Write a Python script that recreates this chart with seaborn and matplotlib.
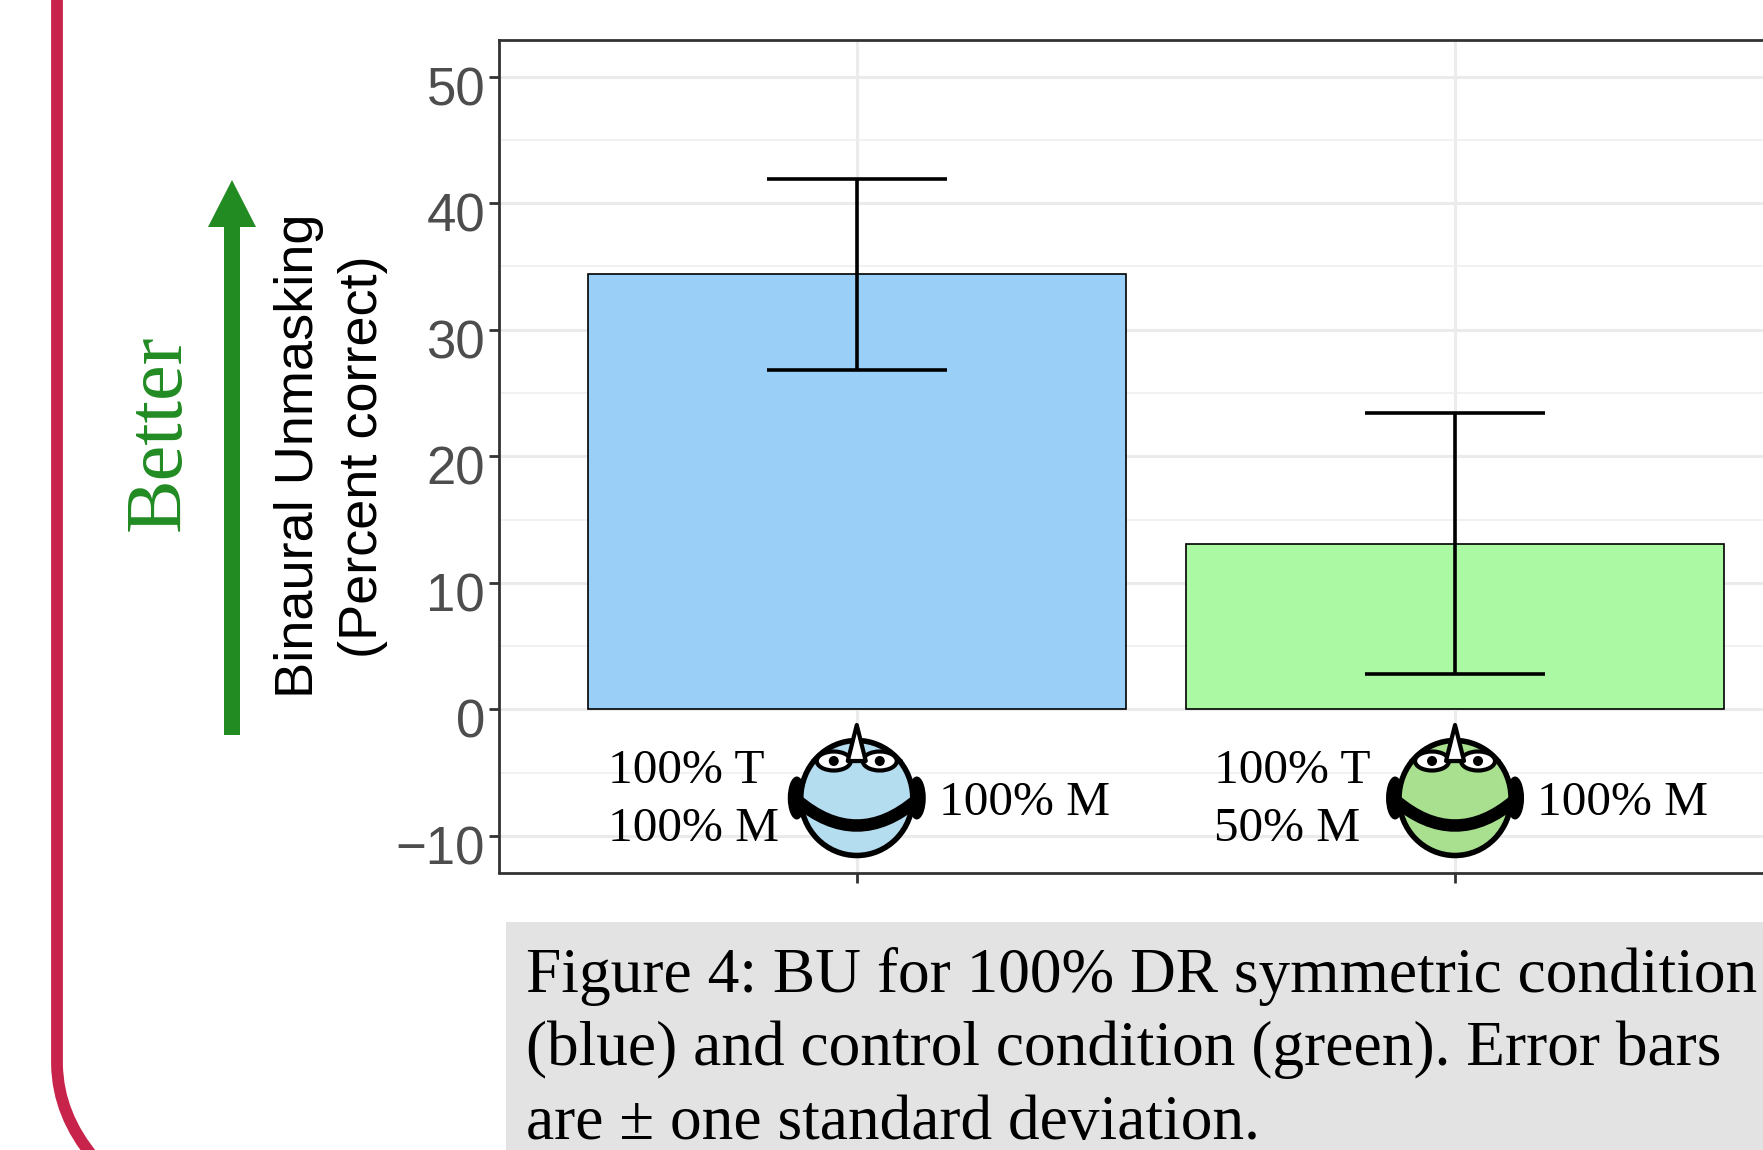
#!/usr/bin/env python3
"""Binaural unmasking bars with the poster frame, head icons and caption."""

import matplotlib
matplotlib.use('Agg')
import matplotlib.pyplot as plt
from matplotlib.patches import Ellipse, FancyArrow, PathPatch, Polygon, Rectangle
from matplotlib.path import Path
from matplotlib.ticker import MultipleLocator
from matplotlib.transforms import ScaledTranslation
import pandas as pd
import seaborn as sns

# Data
conditions = ['Symmetric', 'Control']
means = [34.4, 13.1]
sds = [7.55, 10.3]
bar_colors = ['#9ACFF7', '#ABF9A3']
face_colors = ['#B5DDF0', '#A8E08F']
y_ticks = [-10, 0, 10, 20, 30, 40, 50]
left_labels = ['100% T\n100% M', '100% T\n50% M']
right_labels = ['100% M', '100% M']
caption_lines = [
    'Figure 4: BU for 100% DR symmetric condition',
    '(blue) and control condition (green). Error bars',
    'are ± one standard deviation.',
]

SERIF = 'Liberation Serif'
W, H = 1763, 1150
AX_LEFT, AX_RIGHT, AX_TOP, AX_BOTTOM = 499, 1814, 40, 872.5


def draw_head(pax, cx, cy, face):
    """Head seen from above: ears, band, glasses and nose, in pixel units."""
    for side in (-1, 1):
        pax.add_patch(Ellipse((cx + side * 60, cy), 18, 43, fc='black', ec='none', zorder=3))
    pax.add_patch(Ellipse((cx, cy), 112, 115, fc=face, ec='black', lw=4, zorder=4))

    band = Path([(cx - 60, cy + 2), (cx - 20, cy + 36), (cx + 20, cy + 36), (cx + 60, cy + 2)],
                [Path.MOVETO, Path.CURVE4, Path.CURVE4, Path.CURVE4])
    pax.add_patch(PathPatch(band, fc='none', ec='black', lw=9, capstyle='round', zorder=5))

    pax.plot([cx - 44, cx + 44], [cy - 37, cy - 37], color='black', lw=3, zorder=5)
    for side in (-1, 1):
        ex = cx + side * 23
        pax.add_patch(Ellipse((ex, cy - 37), 34, 19, fc='white', ec='black', lw=3, zorder=6))
        pax.add_patch(Ellipse((ex, cy - 37), 10, 10, fc='black', ec='none', zorder=7))
    pax.add_patch(Polygon([(cx, cy - 73), (cx - 9, cy - 37), (cx + 9, cy - 37)],
                          closed=True, fc='white', ec='black', lw=3, joinstyle='round', zorder=8))


def main():
    sns.set_theme(style='white')
    plt.rcParams['font.family'] = ['Liberation Sans', 'DejaVu Sans']

    fig = plt.figure(figsize=(W / 100, H / 100), dpi=100, facecolor='white')
    ax = fig.add_axes([AX_LEFT / W, 1 - AX_BOTTOM / H,
                       (AX_RIGHT - AX_LEFT) / W, (AX_BOTTOM - AX_TOP) / H])

    df = pd.DataFrame({'condition': conditions, 'mean': means})
    sns.barplot(data=df, x='condition', y='mean', hue='condition', palette=bar_colors,
                saturation=1, width=0.9, edgecolor='black', linewidth=1.2,
                errorbar=None, legend=False, zorder=2, ax=ax)
    ax.errorbar(range(len(conditions)), means, yerr=sds, fmt='none', ecolor='black',
                elinewidth=2.6, capsize=65, capthick=2.6, zorder=3)

    ax.set_xlim(-0.598, 1.6)
    ax.set_ylim(-12.9, 52.9)
    ax.set_yticks(y_ticks)
    ax.yaxis.set_minor_locator(MultipleLocator(5))
    ax.set_xticks(range(len(conditions)))
    ax.set_xticklabels([])
    ax.set_xlabel('')
    ax.set_axisbelow(True)
    ax.grid(True, which='major', color='#EBEBEB', lw=2.2)
    ax.grid(True, which='minor', axis='y', color='#EFEFEF', lw=1.2)
    ax.tick_params(axis='both', which='major', length=7, width=2, color='#333333',
                   labelsize=38, labelcolor='#4D4D4D', pad=3, left=True, bottom=True)
    ax.tick_params(axis='y', which='minor', length=0)
    # the labels sit a little under their ticks in the original
    nudge = ScaledTranslation(0, -9 / 100, fig.dpi_scale_trans)
    for label in ax.get_yticklabels():
        label.set_transform(label.get_transform() + nudge)
    for spine in ax.spines.values():
        spine.set_color('#333333')
        spine.set_linewidth(2)
    ax.set_ylabel('Binaural Unmasking\n(Percent correct)', fontsize=39, color='black',
                  linespacing=1.34, ha='center', va='center')
    ax.yaxis.set_label_coords((331 - AX_LEFT) / (AX_RIGHT - AX_LEFT), 0.5)

    # Overlay in image pixels for everything that is not data
    pax = fig.add_axes([0, 0, 1, 1], facecolor='none')
    pax.set_xlim(0, W)
    pax.set_ylim(H, 0)
    pax.axis('off')

    frame = Path([(57, 0), (57, 1065), (58, 1115), (94, 1158)],
                 [Path.MOVETO, Path.LINETO, Path.CURVE3, Path.CURVE3])
    pax.add_patch(PathPatch(frame, fc='none', ec='#C8234A', lw=8.5))

    pax.add_patch(FancyArrow(232, 735, 0, -555, width=16, head_width=48, head_length=47,
                             length_includes_head=True, fc='#228B22', ec='none'))
    pax.text(160, 433, 'Better', rotation=90, color='#228B22', family=SERIF,
             fontsize=58, ha='center', va='center')

    left_offsets = [249, 241]
    centers = ax.transData.transform([(i, 0) for i in range(len(conditions))])[:, 0]
    for i, cx in enumerate(centers):
        draw_head(pax, cx, 798, face_colors[i])
        pax.text(cx - left_offsets[i], 800, left_labels[i], family=SERIF, fontsize=35.5,
                 color='black', ha='left', va='center', linespacing=1.39)
        pax.text(cx + 82, 803, right_labels[i], family=SERIF, fontsize=35.5, color='black',
                 ha='left', va='center')

    pax.add_patch(Rectangle((506, 922), W - 506, H - 922, fc='#E3E3E3', ec='none'))
    for i, line in enumerate(caption_lines):
        pax.text(526, 976 + i * 74, line, family=SERIF, fontsize=45.6, color='black',
                 ha='left', va='center')

    fig.savefig('out.png', dpi=100)


if __name__ == '__main__':
    main()
